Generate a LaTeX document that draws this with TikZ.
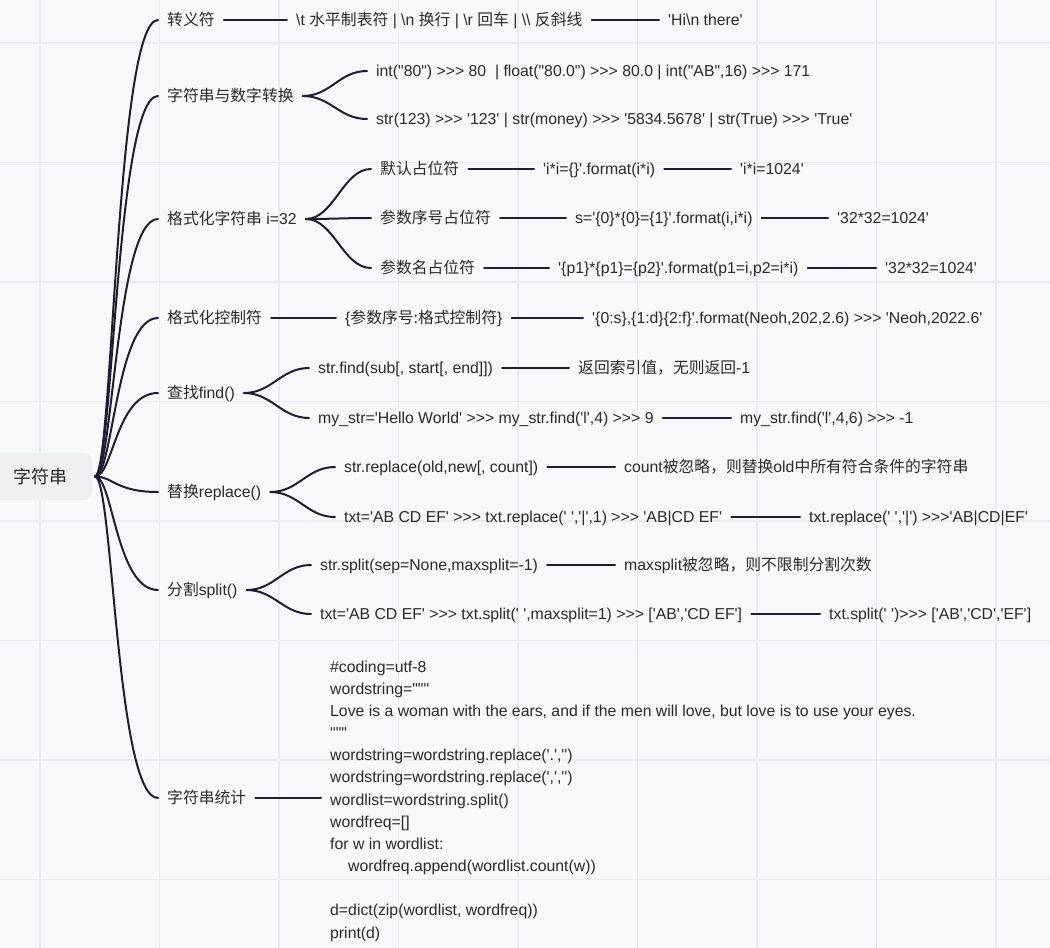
\documentclass[tikz,border=0pt]{standalone}
\usepackage{fontspec}
\setmainfont{Liberation Sans}[Ligatures=TeXOff]
\newfontfamily\cjk{Noto Sans CJK SC}
\newcommand{\zh}[1]{{\cjk #1}}
\newcommand{\bs}{\textbackslash}
\usetikzlibrary{calc}
\definecolor{bgc}{HTML}{F7F8FA}
\definecolor{gridc}{HTML}{EAEBEE}
\definecolor{linec}{HTML}{1E1E32}
\definecolor{txtc}{HTML}{2A2A2A}
\definecolor{rootc}{HTML}{EFEFF1}

\begin{document}
\begin{tikzpicture}[x=1pt,y=-1pt,
    leaf/.style={anchor=west,inner xsep=9pt,inner ysep=0pt,text height=12pt,text depth=2pt,
        text=txtc,font=\fontsize{15.8}{19}\selectfont},
    codeblock/.style={anchor=west,inner xsep=9pt,inner ysep=0pt,align=left,
        text=txtc,font=\fontsize{15.8}{22.17}\selectfont},
    rootbox/.style={fill=rootc,rounded corners=8pt,minimum width=104pt,minimum height=47pt,
        outer xsep=3pt,text=txtc,font=\cjk\fontsize{18}{22}\selectfont},
    conn/.style={draw=linec,line width=2pt,line cap=round}]
    \useasboundingbox (0,0) rectangle (1050,948);
    \fill[bgc] (0,0) rectangle (1050,948);
    \foreach \k in {0,...,8}
        \draw[gridc,line width=1.5pt] ({40+119.5*\k},0) -- ({40+119.5*\k},948);
    \foreach \k in {0,...,7}
        \draw[gridc,line width=1.5pt] (0,{43+119.5*\k}) -- (1050,{43+119.5*\k});

    \node[rootbox] (root) at (40,476.5) {字符串};

    % first level
    \node[leaf] (esc) at (158,20) {\zh{转义符}};
    \node[leaf] (conv) at (158,96) {\zh{字符串与数字转换}};
    \node[leaf] (fmt) at (158,219) {\zh{格式化字符串} i=32};
    \node[leaf] (ctl) at (158,318) {\zh{格式化控制符}};
    \node[leaf] (find) at (158,393) {\zh{查找}find()};
    \node[leaf] (rep) at (158,492) {\zh{替换}replace()};
    \node[leaf] (spl) at (158,590) {\zh{分割}split()};
    \node[leaf] (stat) at (158,798) {\zh{字符串统计}};

    \node[leaf] (esc1) at (287,20) {\bs t \zh{水平制表符} | \bs n \zh{换行} | \bs r \zh{回车} | \bs\bs\ \zh{反斜线}};
    \node[leaf] (esc2) at (659,20) {'Hi\bs n there'};

    \node[leaf] (conv1) at (367,71) {int("80") >>> 80\ \ | float("80.0") >>> 80.0 | int("AB",16) >>> 171};
    \node[leaf] (conv2) at (367,119) {str(123) >>> '123' | str(money) >>> '5834.5678' | str(True) >>> 'True'};

    \node[leaf] (fmt1) at (371,169) {\zh{默认占位符}};
    \node[leaf] (fmt1a) at (534,169) {'i*i=\{\}'.format(i*i)};
    \node[leaf] (fmt1b) at (731,169) {'i*i=1024'};
    \node[leaf] (fmt2) at (371,218) {\zh{参数序号占位符}};
    \node[leaf] (fmt2a) at (566,218) {s='\{0\}*\{0\}=\{1\}'.format(i,i*i)};
    \node[leaf] (fmt2b) at (828,218) {'32*32=1024'};
    \node[leaf] (fmt3) at (371,268) {\zh{参数名占位符}};
    \node[leaf] (fmt3a) at (549,268) {'\{p1\}*\{p1\}=\{p2\}'.format(p1=i,p2=i*i)};
    \node[leaf] (fmt3b) at (876,268) {'32*32=1024'};

    \node[leaf] (ctl1) at (336,318) {\{\zh{参数序号:格式控制符}\}};
    \node[leaf] (ctl2) at (583,318) {'\{0:s\},\{1:d\}\{2:f\}'.format(Neoh,202,2.6) >>> 'Neoh,2022.6'};

    \node[leaf] (find1) at (309,368) {str.find(sub[, start[, end]])};
    \node[leaf] (find1a) at (569,368) {\zh{返回索引值，无则返回}-1};
    \node[leaf] (find2) at (309,418) {my\_str='Hello World' >>> my\_str.find('l',4) >>> 9};
    \node[leaf] (find2a) at (731,418) {my\_str.find('l',4,6) >>> -1};

    \node[leaf] (rep1) at (335,467) {str.replace(old,new[, count])};
    \node[leaf] (rep1a) at (615,467) {count\zh{被忽略，则替换}old\zh{中所有符合条件的字符串}};
    \node[leaf] (rep2) at (335,517) {txt='AB CD EF' >>> txt.replace(' ','|',1) >>> 'AB|CD EF'};
    \node[leaf] (rep2a) at (800,517) {txt.replace(' ','|') >>>'AB|CD|EF'};

    \node[leaf] (spl1) at (311,565) {str.split(sep=None,maxsplit=-1)};
    \node[leaf] (spl1a) at (615,565) {maxsplit\zh{被忽略，则不限制分割次数}};
    \node[leaf] (spl2) at (311,614) {txt='AB CD EF' >>> txt.split(' ',maxsplit=1) >>> ['AB','CD EF']};
    \node[leaf] (spl2a) at (820,614) {txt.split(' ')>>> ['AB','CD','EF']};

    \node[codeblock] (code) at (321,801) {\#coding=utf-8\\
        wordstring="""\\
        Love is a woman with the ears, and if the men will love, but love is to use your eyes.\\
        """\\
        wordstring=wordstring.replace('.','')\\
        wordstring=wordstring.replace(',','')\\
        wordlist=wordstring.split()\\
        wordfreq=[]\\
        for w in wordlist:\\
        \hspace*{18pt}wordfreq.append(wordlist.count(w))\\[22.17pt]
        d=dict(zip(wordlist, wordfreq))\\
        print(d)};

    % branches
    \foreach \c in {esc,conv,fmt,ctl,find,rep,spl,stat}
        \draw[conn] (root.east) .. controls +(18,0) and +(-42,0) .. (\c.west);
    \foreach \a/\b in {conv/conv1,conv/conv2,fmt/fmt1,fmt/fmt2,fmt/fmt3,
        find/find1,find/find2,rep/rep1,rep/rep2,spl/spl1,spl/spl2}
        \draw[conn] (\a.east) .. controls +(28,0) and +(-28,0) .. (\b.west);
    \foreach \a/\b in {esc/esc1,esc1/esc2,fmt1/fmt1a,fmt1a/fmt1b,fmt2/fmt2a,fmt2a/fmt2b,
        fmt3/fmt3a,fmt3a/fmt3b,ctl/ctl1,ctl1/ctl2,find1/find1a,find2/find2a,
        rep1/rep1a,rep2/rep2a,spl1/spl1a,spl2/spl2a}
        \draw[conn] (\a.east) -- (\b.west);
    \draw[conn] (stat.east) -- (stat.east -| code.west);
\end{tikzpicture}
\end{document}
